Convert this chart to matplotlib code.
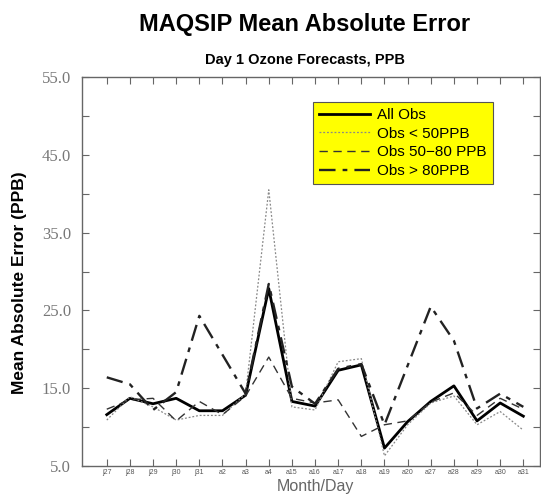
import numpy as np
import matplotlib.pyplot as plt
from matplotlib.ticker import MultipleLocator

days = ["j27", "j28", "j29", "j30", "j31", "a2", "a3", "a4", "a15", "a16",
        "a17", "a18", "a19", "a20", "a27", "a28", "a29", "a30", "a31"]

all_obs = [11.6, 13.7, 13.0, 13.7, 12.1, 12.1, 14.1, 27.8, 13.3, 12.7,
           17.3, 18.0, 7.3, 10.7, 13.3, 15.3, 10.8, 13.1, 11.4]
obs_lt50 = [10.9, 13.9, 12.6, 10.9, 11.5, 11.5, 14.3, 40.5, 12.6, 12.2,
            18.4, 18.8, 6.3, 10.3, 13.1, 14.0, 10.3, 12.0, 9.6]
obs_50_80 = [12.3, 13.5, 13.7, 10.8, 13.3, 11.6, 14.0, 19.0, 13.7, 13.1,
             13.5, 8.8, 10.3, 10.8, 13.2, 14.4, 11.5, 13.7, 12.3]
obs_gt80 = [16.4, 15.5, 12.2, 14.5, 24.3, 19.3, 14.3, 28.4, 15.2, 13.0,
            17.5, 18.1, 10.3, 17.9, 25.5, 21.1, 12.4, 14.3, 12.6]

W, H = 541, 495
fig = plt.figure(figsize=(W / 100, H / 100), dpi=100)
ax = fig.add_axes([82 / W, (H - 466) / H, (540 - 82) / W, (466 - 77) / H])

x = np.arange(len(days))
ax.plot(x, all_obs, color="black", lw=2.0, ls="-", label="All Obs")
ax.plot(x, obs_lt50, color="#888888", lw=0.9, ls=(0, (1.5, 1.5)), label="Obs < 50PPB")
ax.plot(x, obs_50_80, color="#333333", lw=1.0, ls=(0, (6, 4)), label="Obs 50\u221280 PPB")
ax.plot(x, obs_gt80, color="#222222", lw=1.7, ls=(0, (7, 3, 2, 3)), label="Obs > 80PPB")

ax.set_xlim(-1.07, 18.72)
ax.set_ylim(5, 55)
ax.set_xticks(x)
ax.set_xticklabels(days, fontsize=5, color="#555555", family="Liberation Sans")
ax.yaxis.set_minor_locator(MultipleLocator(5))
ax.set_yticks(np.arange(5, 56, 10))
ax.set_yticklabels(["%.1f" % v for v in np.arange(5, 56, 10)],
                   fontsize=12, color="#777777", family="Liberation Serif")
ax.tick_params(which="both", direction="in", length=5, width=0.8, color="#666666",
               top=True, right=True)
ax.tick_params(axis="y", pad=8)
ax.tick_params(axis="x", pad=2)
for s in ax.spines.values():
    s.set_color("#666666")
    s.set_linewidth(1.0)

leg = ax.legend(loc="upper left", bbox_to_anchor=((313 - 82) / (540 - 82), (466 - 102) / (466 - 77)),
                frameon=True, fancybox=False, facecolor="#ffff00", edgecolor="#555555",
                framealpha=1, prop={"family": "Liberation Sans", "size": 11},
                handlelength=3.3, borderpad=0.4, labelspacing=0.3, handletextpad=0.5,
                borderaxespad=0)
leg.get_frame().set_linewidth(0.8)

fig.text(305 / W, 1 - 25 / H, "MAQSIP Mean Absolute Error", ha="center", va="center",
         fontsize=17, fontweight="bold", family="Liberation Sans")
fig.text(305 / W, 1 - 60 / H, "Day 1 Ozone Forecasts, PPB", ha="center", va="center",
         fontsize=10.5, fontweight="bold", family="Liberation Sans")
fig.text(315 / W, 1 - 487 / H, "Month/Day", ha="center", va="center",
         fontsize=11.5, color="#666666", family="Liberation Sans")
fig.text(20 / W, 1 - 283 / H, "Mean Absolute Error (PPB)", ha="center", va="center",
         rotation=90, fontsize=12.5, fontweight="bold", family="Liberation Sans")

fig.savefig("out.png", dpi=100)
